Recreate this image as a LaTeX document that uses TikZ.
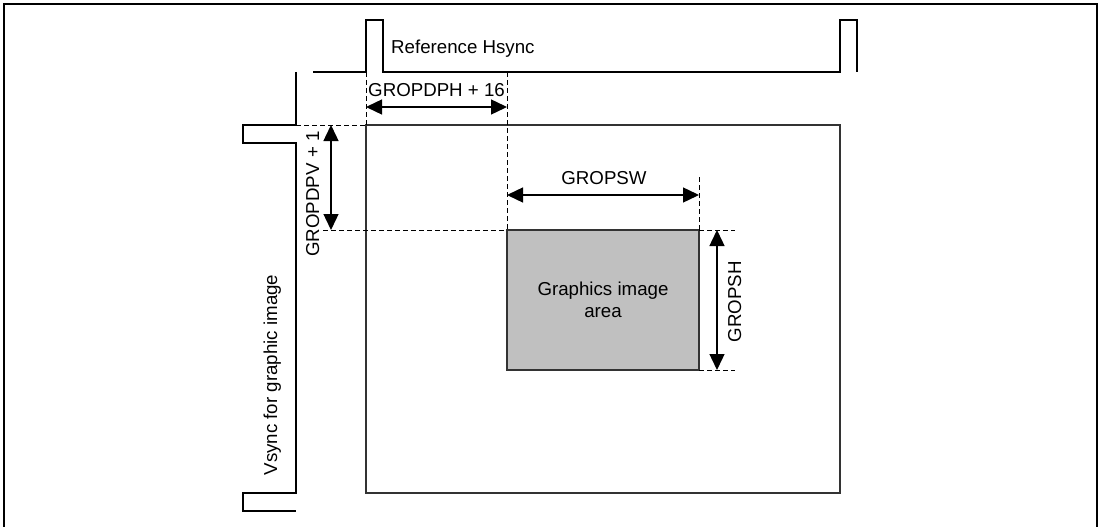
\documentclass[tikz,border=0pt]{standalone}
\usepackage{fontspec}
\setmainfont{Liberation Sans}
\usetikzlibrary{arrows.meta}
\begin{document}
\begin{tikzpicture}[x=1pt,y=-1pt,
  sig/.style={line width=1.4pt,line join=miter},
  dsh/.style={line width=1pt,dash pattern=on 5pt off 3pt},
  dimarrow/.style={line width=1.4pt,{Triangle[length=16pt,width=15pt]}-{Triangle[length=16pt,width=15pt]}},
  lbl/.style={font=\fontsize{18.7}{22}\selectfont,inner sep=0pt},
]
\useasboundingbox (0,0) rectangle (1101,527);
% outer frame
\draw[line width=2.5pt] (4,527) -- (4,4) -- (1097,4) -- (1097,527);

% main frame and graphics area
\node[draw=black!80,line width=1.4pt,minimum width=474pt,minimum height=368pt,inner sep=0pt,outer sep=0pt,anchor=north west] (frame) at (366,125) {};
\node[draw=black!80,fill={rgb,255:red,192;green,192;blue,192},line width=1.4pt,minimum width=192pt,minimum height=140pt,inner sep=0pt,outer sep=0pt,anchor=north west,align=center,font=\fontsize{18.7}{22}\selectfont] (gbox) at (507,230) {Graphics image\\[0pt]area};

% Hsync
\coordinate (hs0) at (313,72);
\coordinate (hs1) at (366,72);
\coordinate (hs2) at (383,72);
\coordinate (hs3) at (840,72);
\coordinate (hs4) at (857,72);
\draw[sig] (hs0) -- (hs1) -- ++(0,-52) -| (hs2) -- (hs3) -- ++(0,-52) -| (hs4);

% Vsync
\coordinate (vs0) at (296,72);
\coordinate (vs1) at (296,125);
\coordinate (vs2) at (296,143);
\coordinate (vs3) at (296,493);
\coordinate (vs4) at (296,511);
\draw[sig] (vs0) -- (vs1) -- ++(-53,0) |- (vs2) -- (vs3) -- ++(-53,0) |- (vs4);

% dashed guide lines
\coordinate (dphTop) at (507,72);
\coordinate (swTop) at (699,177);
\coordinate (dpvL) at (323,230);
\coordinate (shT) at (735,230);
\coordinate (shB) at (735,370);
\draw[dsh] (hs1) -- (frame.north west);
\draw[dsh] (dphTop) -- (gbox.north west);
\draw[dsh] (vs1) -- (frame.north west);
\draw[dsh] (dpvL) -- (gbox.north west);
\draw[dsh] (swTop) -- (gbox.north east);
\draw[dsh] (gbox.north east) -- (shT);
\draw[dsh] (gbox.south east) -- (shB);

% dimension arrows
\coordinate (dphA) at (366,107);
\coordinate (dphB) at (507,107);
\coordinate (dpvA) at (331,125);
\coordinate (dpvB) at (331,230);
\coordinate (swA) at (507,195);
\coordinate (swB) at (699,195);
\coordinate (shA) at (717,230);
\coordinate (shZ) at (717,370);
\draw[dimarrow] (dphA) -- (dphB);
\draw[dimarrow] (dpvA) -- (dpvB);
\draw[dimarrow] (swA) -- (swB);
\draw[dimarrow] (shA) -- (shZ);

% labels
\node[lbl,anchor=base west] (lhs) at (391,54) {Reference Hsync};
\node[lbl,anchor=base west] (ldph) at (368,96) {GROPDPH + 16};
\node[lbl,anchor=base,rotate=90] (ldpv) at (319,194) {GROPDPV + 1};
\node[lbl,anchor=base] (lsw) at (604,184) {GROPSW};
\node[lbl,anchor=base,rotate=90] (lsh) at (741,302) {GROPSH};
\node[lbl,anchor=base,rotate=90] (lvs) at (277,375) {Vsync for graphic image};
\end{tikzpicture}
\end{document}
